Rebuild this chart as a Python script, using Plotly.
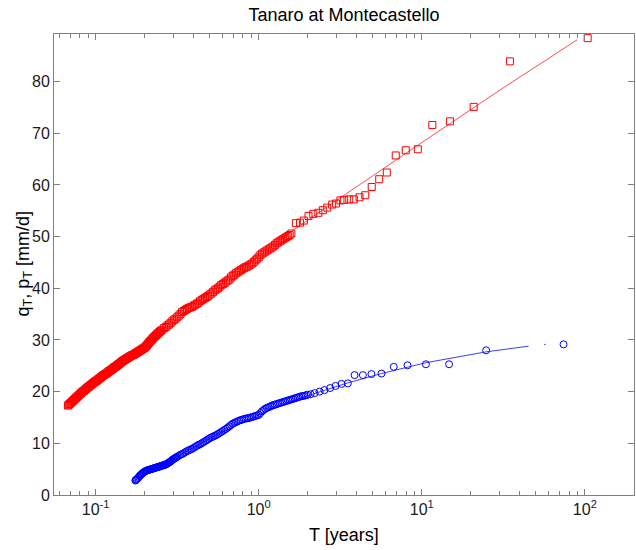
import plotly.graph_objects as go

# ---------------- data ----------------
# Red squares: q_T  (return period T in years, value in mm/d)
q_T = [0.0676, 0.0692, 0.0708, 0.0724, 0.0741, 0.0759, 0.0776, 0.0794, 0.0813, 0.0832,
       0.0851, 0.0871, 0.0891, 0.0912, 0.0933, 0.0955, 0.0977, 0.100, 0.1023, 0.1047,
       0.1072, 0.1096, 0.1122, 0.1148, 0.1175, 0.1202, 0.1230, 0.1259, 0.1288, 0.1318,
       0.1349, 0.1380, 0.1413, 0.1445, 0.1479, 0.1514, 0.1549, 0.1585, 0.1622, 0.1660,
       0.1698, 0.1738, 0.1778, 0.1820, 0.1862, 0.1905, 0.1950, 0.1995, 0.2042, 0.2089,
       0.2138, 0.2188, 0.2239, 0.2291, 0.2344, 0.2399, 0.2455, 0.2512, 0.2570, 0.2630,
       0.2692, 0.2754, 0.2818, 0.2884, 0.2951, 0.3020, 0.3090, 0.3162,
       0.3311, 0.3467, 0.3631, 0.3802, 0.3981, 0.4169, 0.4365, 0.4571, 0.4786, 0.5012,
       0.5248, 0.5495, 0.5754, 0.6026, 0.6310, 0.6607, 0.6918, 0.7244, 0.7586, 0.7943,
       0.8318, 0.8710, 0.9120, 0.9550, 1.000, 1.047, 1.096, 1.148, 1.202, 1.259,
       1.318, 1.380, 1.445, 1.514, 1.585,
       1.69, 1.79, 1.89, 2.02, 2.16, 2.32, 2.47, 2.63, 2.82, 2.98,
       3.17, 3.34, 3.59, 3.83, 4.15, 4.50, 4.93, 5.48, 6.10, 6.92,
       7.97, 9.45, 11.6, 14.9, 20.8, 34.7, 104.0]
q_val = [17.3, 17.6, 17.9, 18.2, 18.5, 18.8, 19.1, 19.4, 19.7, 20.0,
         20.2, 20.5, 20.8, 21.0, 21.3, 21.5, 21.8, 22.0, 22.2, 22.5,
         22.7, 23.0, 23.2, 23.4, 23.6, 23.9, 24.1, 24.3, 24.6, 24.8,
         25.0, 25.3, 25.5, 25.8, 26.0, 26.2, 26.4, 26.6, 26.8, 27.0,
         27.1, 27.3, 27.5, 27.7, 27.9, 28.1, 28.3, 28.5, 28.8, 29.2,
         29.6, 29.9, 30.3, 30.6, 30.9, 31.2, 31.5, 31.8, 32.0, 32.3,
         32.5, 32.8, 33.0, 33.3, 33.6, 33.9, 34.1, 34.4,
         35.0, 35.6, 36.0, 36.3, 36.6, 37.0, 37.5, 37.9, 38.3, 38.8,
         39.3, 39.8, 40.3, 40.8, 41.3, 41.7, 42.4, 42.9, 43.3, 43.7,
         44.1, 44.4, 44.8, 45.4, 46.0, 46.7, 47.1, 47.5, 47.9, 48.4,
         48.9, 49.3, 49.7, 50.1, 50.6,
         52.6, 52.7, 53.1, 54.0, 54.4, 54.6, 55.1, 55.6, 56.2, 56.4,
         57.0, 57.1, 57.2, 57.2, 57.6, 58.0, 59.6, 61.1, 62.4, 65.7,
         66.7, 66.9, 71.6, 72.3, 75.1, 83.9, 88.4]
# further red squares read in the dense part of the band
q_T_more = [0.06839, 0.06998, 0.07161, 0.07328, 0.07499, 0.07674, 0.07852, 0.08035, 0.08222, 0.08414,
            0.08610, 0.08810, 0.09016, 0.09226, 0.09441, 0.09661, 0.09886, 0.10116, 0.10351, 0.10593,
            0.10839, 0.11092, 0.11350, 0.11614, 0.11885, 0.12162, 0.12445, 0.12735, 0.13032, 0.13335,
            0.13646, 0.13964, 0.14289, 0.14622, 0.14962, 0.15311, 0.15668, 0.16032, 0.16406, 0.16788,
            0.17179, 0.17579, 0.17989, 0.18408, 0.18836, 0.19275, 0.19724, 0.20184, 0.20654, 0.21135,
            0.21627, 0.22131, 0.22646, 0.23174, 0.23714, 0.24266, 0.24831,
            0.3236, 0.3388, 0.3548, 0.3715, 0.3890, 0.4074, 0.4266, 0.4467, 0.4677, 0.4898,
            0.5129, 0.5370, 0.5623, 0.5888, 0.6166, 0.6457, 0.6761, 0.7079, 0.7413, 0.7762,
            0.8128, 0.8511, 0.8913, 0.9333, 0.9772, 1.023, 1.072, 1.122, 1.175, 1.230,
            1.288, 1.349, 1.413, 1.479, 1.549]
q_val_more = [17.45, 17.75, 18.05, 18.35, 18.65, 18.95, 19.25, 19.55, 19.85, 20.1,
              20.35, 20.65, 20.9, 21.15, 21.4, 21.65, 21.9, 22.1, 22.35, 22.6,
              22.85, 23.1, 23.3, 23.5, 23.75, 24.0, 24.2, 24.45, 24.7, 24.9,
              25.15, 25.4, 25.65, 25.9, 26.1, 26.3, 26.5, 26.7, 26.9, 27.05,
              27.2, 27.4, 27.6, 27.8, 28.0, 28.2, 28.4, 28.65, 29.0, 29.4,
              29.75, 30.1, 30.45, 30.75, 31.05, 31.35, 31.65,
              34.7, 35.4, 35.8, 36.2, 36.4, 36.8, 37.2, 37.7, 38.1, 38.5,
              39.0, 39.6, 40.0, 40.6, 41.0, 41.5, 42.1, 42.6, 43.1, 43.5,
              43.9, 44.2, 44.6, 45.1, 45.7, 46.4, 46.9, 47.3, 47.7, 48.1,
              48.7, 49.1, 49.5, 49.9, 50.3]

# Red fitted curve
q_fit_T = [0.0676, 0.1413, 0.3162, 0.5623, 1.0, 1.69, 3.13, 5.62, 10.0, 17.8, 31.6, 56.2, 89.8]
q_fit = [17.4, 25.5, 34.3, 40.2, 46.2, 51.6, 57.4, 62.9, 68.2, 73.5, 78.8, 83.9, 88.1]

# Blue circles: p_T
p_T = [0.1754, 0.1778, 0.1820, 0.1862, 0.1905, 0.1950, 0.1995, 0.2042, 0.2089, 0.2138,
       0.2188, 0.2239, 0.2291, 0.2344, 0.2399, 0.2455, 0.2512, 0.2570, 0.2630, 0.2692,
       0.2754, 0.2818, 0.2884, 0.2951, 0.3020, 0.3090, 0.3162, 0.3236, 0.3311, 0.3388,
       0.3467, 0.3548, 0.3631, 0.3715, 0.3802, 0.3890, 0.3981, 0.4074, 0.4169, 0.4266,
       0.4365, 0.4467, 0.4571, 0.4677, 0.4786, 0.4898, 0.5012,
       0.5248, 0.5495, 0.5754, 0.6026, 0.6310, 0.6607, 0.6918, 0.7244, 0.7586, 0.7943,
       0.8318, 0.8710, 0.9120, 0.9550, 1.000, 1.047, 1.096, 1.148, 1.202, 1.259,
       1.318, 1.380, 1.445, 1.514, 1.585, 1.660, 1.738, 1.820, 1.905, 1.995,
       2.08, 2.20, 2.36, 2.53, 2.74, 2.96, 3.22, 3.52, 3.87, 4.35,
       4.91, 5.66, 6.73, 8.17, 10.6, 14.7, 24.8, 74.0]
p_val = [2.8, 3.0, 3.3, 3.7, 4.0, 4.3, 4.5, 4.7, 4.8, 4.9,
         5.0, 5.1, 5.2, 5.3, 5.4, 5.5, 5.6, 5.7, 5.8, 5.9,
         6.1, 6.3, 6.5, 6.8, 7.0, 7.2, 7.4, 7.6, 7.8, 7.9,
         8.1, 8.3, 8.5, 8.6, 8.8, 8.9, 9.1, 9.3, 9.5, 9.7,
         9.8, 10.0, 10.2, 10.4, 10.6, 10.8, 11.0,
         11.3, 11.6, 12.0, 12.4, 12.8, 13.3, 13.8, 14.1, 14.4, 14.6,
         14.8, 14.9, 15.1, 15.3, 15.5, 16.2, 16.7, 17.0, 17.3, 17.5,
         17.7, 17.9, 18.1, 18.3, 18.5, 18.7, 18.9, 19.1, 19.2, 19.4,
         19.5, 19.7, 20.0, 20.3, 20.7, 21.1, 21.5, 21.6, 23.2, 23.2,
         23.4, 23.5, 24.8, 25.1, 25.3, 25.3, 28.0, 29.15]
# further blue circles read in the dense part of the band
p_T_more = [0.17579, 0.17989, 0.18408, 0.18836, 0.19275, 0.19724, 0.20184, 0.20654, 0.21135, 0.21627,
            0.22131, 0.22646, 0.23174, 0.23714, 0.24266, 0.24831, 0.25410, 0.26002, 0.26607, 0.27227,
            0.27861, 0.28510, 0.29174, 0.29854, 0.30549, 0.31261,
            0.5129, 0.5370, 0.5623, 0.5888, 0.6166, 0.6457, 0.6761, 0.7079, 0.7413, 0.7762,
            0.8128, 0.8511, 0.8913, 0.9333, 0.9772, 1.023, 1.072, 1.122, 1.175, 1.230,
            1.288, 1.349, 1.413, 1.479, 1.549, 1.622, 1.698, 1.778, 1.862, 1.950]
p_val_more = [2.9, 3.15, 3.5, 3.85, 4.15, 4.4, 4.6, 4.75, 4.85, 4.95,
              5.05, 5.15, 5.25, 5.35, 5.45, 5.55, 5.65, 5.75, 5.85, 6.0,
              6.2, 6.4, 6.65, 6.9, 7.1, 7.3,
              11.15, 11.45, 11.8, 12.2, 12.6, 13.05, 13.55, 13.95, 14.25, 14.5,
              14.7, 14.85, 15.0, 15.2, 15.4, 15.85, 16.45, 16.85, 17.15, 17.4,
              17.6, 17.8, 18.0, 18.2, 18.4, 18.6, 18.8, 19.0, 19.15, 19.3]

# Blue fitted curve (with a small detached piece)
p_fit_T = [0.1754, 0.3162, 0.5623, 1.0, 1.778, 3.52, 5.66, 10.6, 24.8, 45.2]
p_fit = [3.0, 7.5, 11.8, 15.5, 18.7, 21.7, 23.5, 25.6, 27.7, 28.8]
p_fit2_T = [56.2, 57.5]
p_fit2 = [29.12, 29.15]

x_tickvals = [0.1, 1, 10, 100]
x_ticktext = ["10<sup>-1</sup>", "10<sup>0</sup>", "10<sup>1</sup>", "10<sup>2</sup>"]
x_minor = [0.06, 0.07, 0.08, 0.09, 0.2, 0.3, 0.4, 0.5, 0.6, 0.7, 0.8, 0.9,
           2, 3, 4, 5, 6, 7, 8, 9, 20, 30, 40, 50, 60, 70, 80, 90, 200]
y_tickvals = [0, 10, 20, 30, 40, 50, 60, 70, 80]

title_text = "Tanaro at Montecastello"
x_title = "T [years]"
y_title = "q<sub>T</sub>, p<sub>T</sub> [mm/d]"

# ---------------- figure ----------------
FONT = "Liberation Sans, Arial, Helvetica, sans-serif"
AX = "#808080"
W, H = 636, 550
ML, MR, MT, MB = 54, 2, 34, 55
PW, PH = W - ML - MR, H - MT - MB

fig = go.Figure()
fig.add_trace(go.Scatter(x=q_fit_T, y=q_fit, mode="lines",
                         line=dict(color="rgba(255,60,60,0.9)", width=1), showlegend=False))
fig.add_trace(go.Scatter(x=q_T + q_T_more, y=q_val + q_val_more, mode="markers",
                         marker=dict(symbol="square-open", size=7, color="#ff0000",
                                     line=dict(width=1, color="#ff0000")), showlegend=False))
fig.add_trace(go.Scatter(x=p_fit_T, y=p_fit, mode="lines",
                         line=dict(color="rgba(40,40,255,0.9)", width=1), showlegend=False))
fig.add_trace(go.Scatter(x=p_fit2_T, y=p_fit2, mode="lines",
                         line=dict(color="rgba(40,40,255,0.9)", width=1), showlegend=False))
fig.add_trace(go.Scatter(x=p_T + p_T_more, y=p_val + p_val_more, mode="markers",
                         marker=dict(symbol="circle-open", size=7, color="#0000ff",
                                     line=dict(width=1, color="#0000ff")), showlegend=False))

fig.update_layout(
    width=W, height=H,
    margin=dict(l=ML, r=MR, t=MT, b=MB),
    paper_bgcolor="white", plot_bgcolor="white",
    font=dict(family=FONT, color="#1a1a1a"),
    hovermode=False,
    title=dict(text=title_text, x=0.5, xref="paper", xanchor="center",
               y=1 - 8.5 / H, yref="container", yanchor="top",
               font=dict(size=18, family=FONT, color="#000000")),
    annotations=[
        dict(text=x_title, xref="paper", yref="paper", x=0.5, y=-40 / PH,
             xanchor="center", yanchor="middle", showarrow=False,
             font=dict(size=18, family=FONT, color="#000000")),
        dict(text=y_title, xref="paper", yref="paper", x=-30 / PW, y=0.5,
             xanchor="center", yanchor="middle", showarrow=False, textangle=-90,
             font=dict(size=18, family=FONT, color="#000000")),
    ],
)
fig.update_xaxes(
    type="log", range=[-1.2555, 2.3012], automargin=False,
    tickmode="array", tickvals=x_tickvals, ticktext=x_ticktext,
    ticks="inside", ticklen=6, tickcolor=AX, tickwidth=1,
    minor=dict(tickmode="array", tickvals=x_minor, ticks="inside", ticklen=4,
               tickcolor=AX, tickwidth=1, showgrid=False),
    showline=True, linecolor=AX, linewidth=1, mirror="allticks",
    showgrid=False, zeroline=False,
    tickfont=dict(size=16, family=FONT, color="#1a1a1a"),
)
fig.update_yaxes(
    range=[0, 89.2], automargin=False, tickmode="array", tickvals=y_tickvals,
    ticks="inside", ticklen=6, tickcolor=AX, tickwidth=1,
    showline=True, linecolor=AX, linewidth=1, mirror="allticks",
    showgrid=False, zeroline=False,
    tickfont=dict(size=16, family=FONT, color="#1a1a1a"),
)

# remove the page's default 8px body margin so the figure fills the window
fig.write_html("out.html",
               config={"displayModeBar": False},
               post_script="document.body.style.margin='0';document.body.style.overflow='hidden';")
